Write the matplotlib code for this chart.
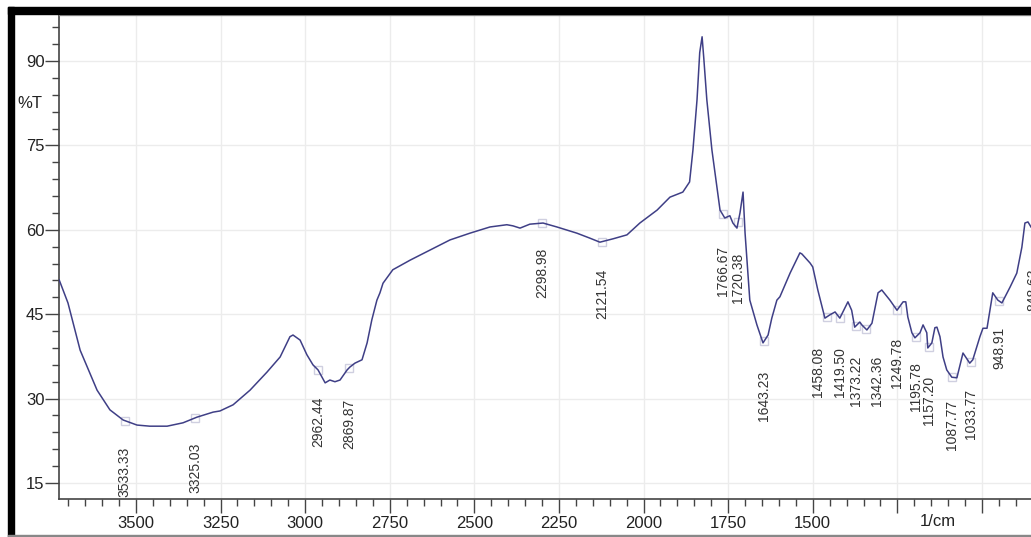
import numpy as np
import matplotlib.pyplot as plt
from matplotlib.patches import Rectangle
from matplotlib.ticker import MultipleLocator, FixedLocator

# FTIR spectrum (wavenumber in 1/cm, transmittance in %T)
wavenumber = [3727, 3701, 3665, 3615, 3577, 3538, 3497, 3459, 3408, 3361, 3320, 3272, 3252,
              3213, 3163, 3113, 3074, 3045, 3036, 3015, 2995, 2977, 2962, 2941, 2927, 2912,
              2897, 2876, 2868, 2853, 2832, 2817, 2803, 2788, 2779, 2770, 2741, 2690, 2631,
              2572, 2513, 2454, 2404, 2386, 2365, 2336, 2297, 2256, 2197, 2158, 2129, 2090,
              2049, 2011, 1960, 1922, 1884, 1864, 1854, 1842, 1834, 1827, 1822, 1813, 1798,
              1783, 1774, 1760, 1745, 1736, 1724, 1715, 1706, 1700, 1686, 1665, 1647, 1632,
              1621, 1606, 1597, 1567, 1538, 1532, 1508, 1500, 1485, 1464, 1449, 1434, 1420,
              1396, 1385, 1376, 1361, 1355, 1340, 1325, 1307, 1296, 1272, 1251, 1233, 1225,
              1219, 1207, 1198, 1183, 1174, 1163, 1160, 1148, 1139, 1133, 1124, 1115, 1104,
              1089, 1074, 1056, 1036, 1027, 1006, 997, 985, 968, 953, 941, 917, 897, 882,
              873, 864, 855]
transmittance = [51.1, 47.0, 38.6, 31.5, 28.0, 26.2, 25.3, 25.1, 25.1, 25.7, 26.7, 27.6, 27.8,
                 28.9, 31.5, 34.7, 37.4, 41.0, 41.3, 40.4, 37.8, 36.0, 35.1, 32.8, 33.3, 33.0,
                 33.3, 35.1, 35.6, 36.3, 36.9, 39.9, 44.0, 47.5, 48.8, 50.5, 52.9, 54.6, 56.4,
                 58.2, 59.4, 60.5, 60.9, 60.7, 60.3, 61.0, 61.2, 60.5, 59.4, 58.5, 57.8, 58.4,
                 59.1, 61.2, 63.5, 65.8, 66.7, 68.5, 74.2, 83.1, 91.5, 94.3, 90.5, 83.1, 74.2,
                 67.6, 63.5, 62.1, 62.5, 61.2, 60.3, 63.0, 66.7, 59.4, 47.5, 43.1, 39.9, 41.3,
                 44.3, 47.5, 48.1, 52.3, 55.9, 55.7, 54.1, 53.4, 49.3, 44.3, 44.9, 45.4, 44.3,
                 47.2, 45.7, 42.7, 43.6, 43.1, 42.2, 43.4, 48.8, 49.3, 47.5, 45.7, 47.2, 47.2,
                 44.5, 41.7, 40.8, 41.7, 43.1, 41.7, 39.0, 39.9, 42.6, 42.7, 41.0, 37.4, 35.1,
                 33.8, 33.7, 38.1, 36.3, 36.9, 41.0, 42.5, 42.5, 48.8, 47.5, 47.0, 49.8, 52.3,
                 56.9, 61.2, 61.4, 60.5]

# peak picks and where their labels sit (%T of label centre)
peaks = [3533.33, 3325.03, 2962.44, 2869.87, 2298.98, 2121.54, 1766.67, 1720.38, 1643.23,
         1458.08, 1419.50, 1373.22, 1342.36, 1249.78, 1195.78, 1157.20, 1087.77, 1033.77,
         948.91, 848.63]
label_y = [17.0, 17.7, 25.8, 25.5, 52.3, 48.6, 52.7, 51.4, 30.5,
           34.7, 34.7, 33.1, 33.1, 36.3, 32.1, 29.6, 25.3, 27.3, 39.0, 49.3]
label_shift = {1458.08: 27, 1342.36: -32}

fig = plt.figure(figsize=(10.31, 5.37), dpi=100)
ax = fig.add_axes([59 / 1031, 38 / 537, 1 - 59 / 1031, 484 / 537])

ax.plot(wavenumber, transmittance, color='#3f3f86', lw=1.1, zorder=3)

wn_asc = np.array(wavenumber[::-1])
tr_asc = np.array(transmittance[::-1])
px = [p for p in peaks if p >= wn_asc[0]]
ax.plot(px, np.interp(px, wn_asc, tr_asc), 's', ms=6, mfc='none', mec='#cfcfe0',
        mew=1, zorder=2)

for p, ly in zip(peaks, label_y):
    ax.text(p + label_shift.get(p, 0), ly, '%.2f' % p, rotation=90, ha='center',
            va='center', fontsize=10, family='Liberation Sans', color='#333333',
            clip_on=False)

ax.set_xlim(3727.5, 855)
ax.set_ylim(12.16, 98.17)

ax.xaxis.set_major_locator(MultipleLocator(250))
ax.xaxis.set_minor_locator(MultipleLocator(50))
ax.yaxis.set_major_locator(FixedLocator([15, 30, 45, 60, 75, 90]))
ax.yaxis.set_minor_locator(MultipleLocator(3))
ax.set_xticklabels([])
ax.grid(True, which='major', color='#ececec', lw=1)
ax.set_axisbelow(True)

xticks = [3500, 3250, 3000, 2750, 2500, 2250, 2000, 1750, 1500]
for t in xticks:
    ax.text(t, -0.05, str(t), transform=ax.get_xaxis_transform(), ha='center',
            va='center', fontsize=12, family='Liberation Sans', color='#222222')

ax.tick_params(axis='both', which='major', length=10, width=1, color='#444444',
               labelsize=12, labelcolor='#222222', pad=0.5)
ax.tick_params(axis='both', which='minor', length=5, width=1, color='#444444')
for lab in ax.get_yticklabels():
    lab.set_family('Liberation Sans')

for s in ['left', 'bottom']:
    ax.spines[s].set_color('#444444')
    ax.spines[s].set_linewidth(1.2)
ax.spines['top'].set_color('#999999')
ax.spines['top'].set_linewidth(1)
ax.spines['right'].set_visible(False)

fig.text(30 / 1031, 1 - 103 / 537, '%T', ha='center', va='center', fontsize=12,
         family='Liberation Sans', color='#222222')
fig.text(938 / 1031, 1 - 522 / 537, '1/cm', ha='center', va='center', fontsize=12,
         family='Liberation Sans', color='#222222')

# black frame around the screenshot
fig.patches.append(Rectangle((8 / 1031, 0), 6 / 1031, 1 - 7 / 537, transform=fig.transFigure,
                             color='black', zorder=10))
fig.patches.append(Rectangle((8 / 1031, 1 - 14 / 537), 1, 7 / 537, transform=fig.transFigure,
                             color='black', zorder=10))
fig.patches.append(Rectangle((8 / 1031, 1.5 / 537), 1, 1 / 537, transform=fig.transFigure,
                             color='#888888', zorder=10))

fig.savefig('out.png', dpi=100)
